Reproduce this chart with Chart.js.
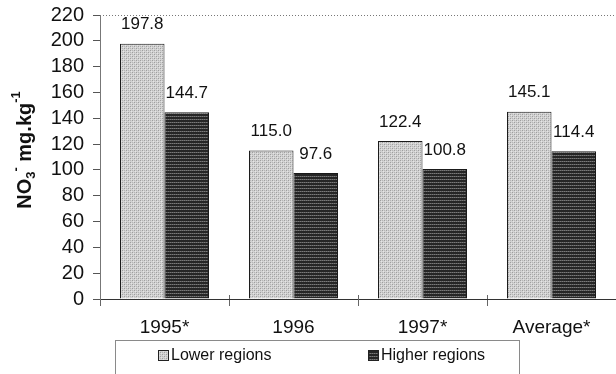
<!DOCTYPE html>
<html>
<head>
<meta charset="utf-8">
<script src="https://cdn.jsdelivr.net/npm/chart.js@4/dist/chart.umd.min.js"></script>
<style>
  html, body { margin: 0; padding: 0; background: #fff; }
  #wrap { width: 616px; height: 374px; position: relative; }
</style>
</head>
<body>
<div id="wrap"><canvas id="no3Chart" width="616" height="374"></canvas></div>
<script>
// NO3 content, lower vs higher regions
var years = ["1995*", "1996", "1997*", "Average*"];
var lowerRegions = [197.8, 115.0, 122.4, 145.1];
var higherRegions = [144.7, 97.6, 100.8, 114.4];
var yTicks = [0, 20, 40, 60, 80, 100, 120, 140, 160, 180, 200, 220];

var FONT = "'Liberation Sans', Arial, sans-serif";

// stippled light grey fill
function lightPattern() {
  var c = document.createElement("canvas");
  c.width = 4; c.height = 4;
  var g = c.getContext("2d");
  g.fillStyle = "#d2d2d2";
  g.fillRect(0, 0, 4, 4);
  g.fillStyle = "#9e9e9e";
  g.fillRect(0, 0, 1, 1);
  g.fillRect(2, 2, 1, 1);
  g.fillStyle = "#b6b6b6";
  g.fillRect(2, 0, 1, 1);
  g.fillRect(0, 2, 1, 1);
  g.fillStyle = "#e4e4e4";
  g.fillRect(1, 1, 1, 1);
  g.fillRect(3, 3, 1, 1);
  return g.createPattern(c, "repeat");
}

// dark fill with thin light horizontal lines
function darkPattern() {
  var c = document.createElement("canvas");
  c.width = 4; c.height = 3;
  var g = c.getContext("2d");
  g.fillStyle = "#262626";
  g.fillRect(0, 0, 4, 3);
  g.fillStyle = "#7a7a7a";
  g.fillRect(0, 2, 1, 1);
  g.fillRect(2, 2, 1, 1);
  g.fillStyle = "#565656";
  g.fillRect(1, 2, 1, 1);
  g.fillRect(3, 2, 1, 1);
  return g.createPattern(c, "repeat");
}

// value labels above each bar
var valueLabels = {
  id: "valueLabels",
  afterDatasetsDraw: function (chart) {
    var ctx = chart.ctx;
    ctx.save();
    ctx.font = "17px " + FONT;
    ctx.fillStyle = "#111";
    ctx.textAlign = "center";
    ctx.textBaseline = "middle";
    chart.data.datasets.forEach(function (ds, i) {
      chart.getDatasetMeta(i).data.forEach(function (bar, j) {
        ctx.fillText(ds.data[j].toFixed(1), bar.x, bar.y - 19);
      });
    });
    ctx.restore();
  }
};

// axis title with sub/superscripts, dotted top border, boxed legend
var decorations = {
  id: "decorations",
  afterDraw: function (chart) {
    var ctx = chart.ctx;
    var area = chart.chartArea;
    ctx.save();

    // dotted frame line along the top
    ctx.strokeStyle = "#777";
    ctx.lineWidth = 1;
    ctx.setLineDash([1, 2]);
    ctx.beginPath();
    ctx.moveTo(area.left, area.top + 0.5);
    ctx.lineTo(area.right, area.top + 0.5);
    ctx.stroke();
    ctx.setLineDash([]);

    // category separators cross the baseline slightly
    var xs = chart.scales.x;
    ctx.strokeStyle = "#666";
    for (var k = 1; k < years.length; k++) {
      var gx = Math.round((xs.getPixelForTick(k - 1) + xs.getPixelForTick(k)) / 2) + 0.5;
      ctx.beginPath();
      ctx.moveTo(gx, area.bottom - 4);
      ctx.lineTo(gx, area.bottom);
      ctx.stroke();
    }

    // y title: NO3- mg.kg-1
    var parts = [
      { t: "NO", size: 20, dy: 0 },
      { t: "3", size: 13, dy: 6 },
      { t: "-", size: 13, dy: -9 },
      { t: " mg.kg", size: 20, dy: 0 },
      { t: "-1", size: 13, dy: -9 }
    ];
    ctx.translate(25, 150);
    ctx.rotate(-Math.PI / 2);
    ctx.fillStyle = "#111";
    ctx.textBaseline = "middle";
    ctx.textAlign = "left";
    var total = 0;
    parts.forEach(function (p) {
      ctx.font = "bold " + p.size + "px " + FONT;
      p.w = ctx.measureText(p.t).width;
      total += p.w;
    });
    var x = -total / 2;
    parts.forEach(function (p) {
      ctx.font = "bold " + p.size + "px " + FONT;
      ctx.fillText(p.t, x, p.dy);
      x += p.w;
    });
    ctx.setTransform(1, 0, 0, 1, 0, 0);

    // legend box
    ctx.strokeStyle = "#8a8a8a";
    ctx.lineWidth = 1;
    ctx.strokeRect(115.5, 340.5, 404, 40);
    var entries = [
      { x: 158, ds: chart.data.datasets[0] },
      { x: 368, ds: chart.data.datasets[1] }
    ];
    ctx.font = "16px " + FONT;
    ctx.textBaseline = "middle";
    entries.forEach(function (e) {
      ctx.fillStyle = e.ds.backgroundColor;
      ctx.fillRect(e.x, 350, 11, 11);
      ctx.strokeStyle = "#222";
      ctx.strokeRect(e.x + 0.5, 350.5, 10, 10);
      ctx.fillStyle = "#111";
      ctx.fillText(e.ds.label, e.x + 13, 356);
    });
    ctx.restore();
  }
};

var ctx = document.getElementById("no3Chart");
new Chart(ctx, {
  type: "bar",
  data: {
    labels: years,
    datasets: [
      {
        label: "Lower regions",
        data: lowerRegions,
        backgroundColor: lightPattern(),
        borderColor: "#1a1a1a",
        borderWidth: 1,
        borderSkipped: "bottom",
        categoryPercentage: 0.69,
        barPercentage: 1.0
      },
      {
        label: "Higher regions",
        data: higherRegions,
        backgroundColor: darkPattern(),
        borderColor: "#1a1a1a",
        borderWidth: 1,
        borderSkipped: "bottom",
        categoryPercentage: 0.69,
        barPercentage: 1.0
      }
    ]
  },
  options: {
    responsive: false,
    animation: false,
    layout: { padding: { top: 15, right: 0, bottom: 0, left: 0 } },
    plugins: {
      legend: { display: false },
      tooltip: { enabled: false }
    },
    scales: {
      x: {
        offset: true,
        grid: {
          offset: true,
          drawOnChartArea: false,
          drawTicks: true,
          tickLength: 7,
          color: "#666"
        },
        border: { display: true, color: "#333", width: 1 },
        ticks: {
          color: "#111",
          font: { family: FONT, size: 19 },
          padding: 10,
          autoSkip: false,
          maxRotation: 0
        },
        afterFit: function (scale) {
          scale.height = 75;
          scale.paddingLeft = 0;
          scale.paddingRight = 0;
        }
      },
      y: {
        min: 0,
        max: 220,
        afterBuildTicks: function (scale) {
          scale.ticks = yTicks.map(function (v) { return { value: v }; });
        },
        grid: {
          drawOnChartArea: false,
          drawTicks: true,
          tickLength: 7,
          color: "#555"
        },
        border: { display: true, color: "#777", width: 1, dash: [1, 2] },
        ticks: {
          color: "#111",
          font: { family: FONT, size: 20 },
          padding: 9,
          autoSkip: false
        },
        afterFit: function (scale) {
          scale.width = 100;
          scale.paddingTop = 0;
          scale.paddingBottom = 0;
        }
      }
    }
  },
  plugins: [valueLabels, decorations]
});
</script>
</body>
</html>
